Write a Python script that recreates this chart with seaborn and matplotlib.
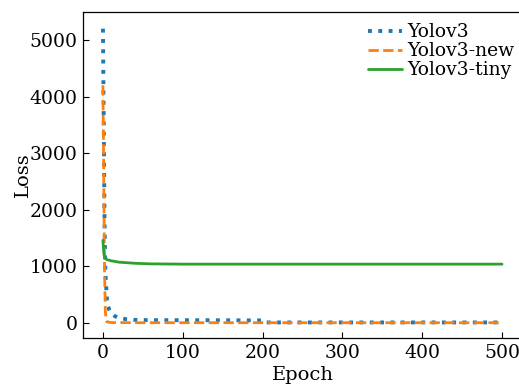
import matplotlib
matplotlib.use("Agg")
import matplotlib.pyplot as plt
import seaborn as sns
import pandas as pd

# --- data ---
yolov3_epoch = [0, 1, 2, 3, 4, 5, 6, 8, 10, 15, 20, 30, 40, 60, 100, 150, 199, 202, 250, 300, 400, 500]
yolov3_loss = [5200, 3500, 1800, 900, 650, 420, 320, 230, 180, 120, 90, 65, 55, 50, 50, 48, 45, 10, 10, 10, 10, 10]

yolov3new_epoch = [0, 1, 2, 3, 4, 5, 10, 50, 100, 200, 300, 400, 500]
yolov3new_loss = [4200, 2600, 900, 200, 60, 20, 8, 5, 5, 5, 5, 5, 5]

yolov3tiny_epoch = [0, 1, 2, 5, 10, 20, 40, 60, 100, 200, 300, 400, 500]
yolov3tiny_loss = [1460, 1250, 1150, 1120, 1100, 1075, 1055, 1045, 1040, 1040, 1040, 1040, 1040]

series_names = ["Yolov3", "Yolov3-new", "Yolov3-tiny"]
x_ticks = [0, 100, 200, 300, 400, 500]
y_ticks = [0, 1000, 2000, 3000, 4000, 5000]

sns.set_style("ticks")
plt.rcParams["font.family"] = ["DejaVu Serif"]
plt.rcParams["mathtext.fontset"] = "dejavuserif"
plt.rcParams["text.color"] = "black"
plt.rcParams["axes.labelcolor"] = "black"
plt.rcParams["xtick.color"] = "black"
plt.rcParams["ytick.color"] = "black"
plt.rcParams["axes.edgecolor"] = "black"

fig = plt.figure(figsize=(5.19, 3.86), dpi=100)
W, H = 519, 386
ax = fig.add_axes([83 / W, (H - 338) / H, 439 / W, (338 - 12) / H])

colors = sns.color_palette("tab10")
data = [
    (yolov3_epoch, yolov3_loss, ":", 2.8, colors[0]),
    (yolov3new_epoch, yolov3new_loss, "--", 2.0, colors[1]),
    (yolov3tiny_epoch, yolov3tiny_loss, "-", 2.0, colors[2]),
]
for name, (xs, ys, ls, lw, c) in zip(series_names, data):
    df = pd.DataFrame({"Epoch": xs, "Loss": ys})
    sns.lineplot(data=df, x="Epoch", y="Loss", ax=ax, label=name,
                 linestyle=ls, linewidth=lw, color=c)

ax.set_xlim(-25, 525)
ax.set_ylim(-265, 5495)
ax.set_xticks(x_ticks)
ax.set_yticks(y_ticks)
ax.tick_params(direction="in", labelsize=13.5, length=4, width=0.8, pad=4)
ax.set_xlabel("Epoch", fontsize=14, labelpad=3)
ax.set_ylabel("Loss", fontsize=14, labelpad=-2)
for s in ax.spines.values():
    s.set_linewidth(0.9)

leg = ax.legend(loc="upper right", bbox_to_anchor=(1.009, 1.0), frameon=False,
                fontsize=13.5, handlelength=1.8, handletextpad=0.3,
                labelspacing=0.05, borderaxespad=0.2)

fig.savefig("out.png", dpi=100)
